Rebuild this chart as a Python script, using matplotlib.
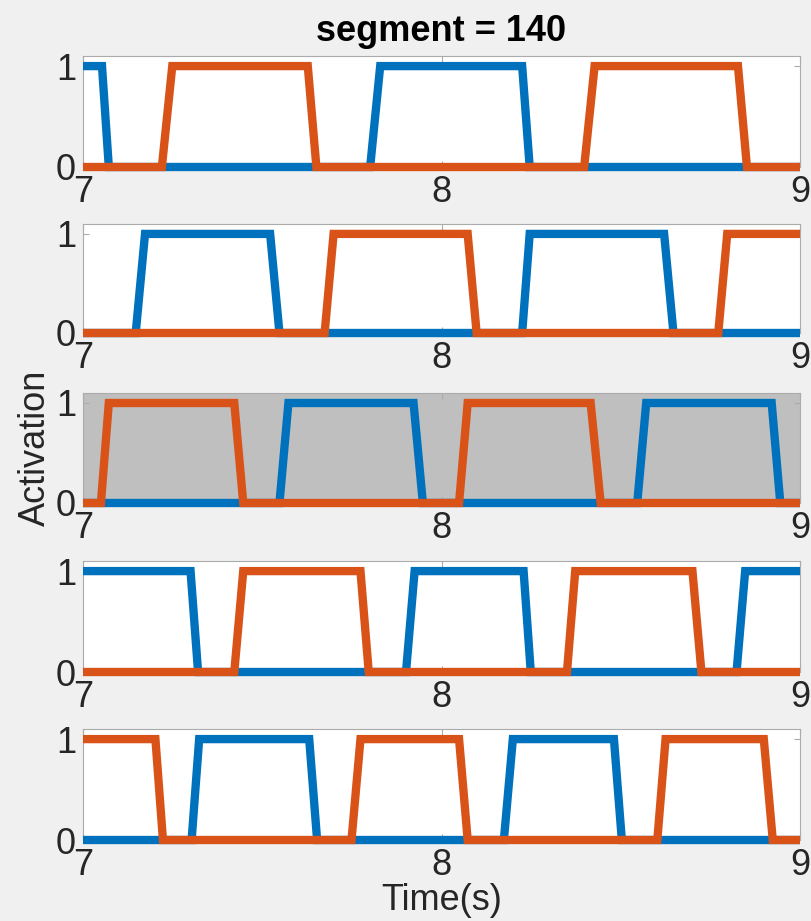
import matplotlib
matplotlib.use("Agg")
import matplotlib.pyplot as plt

plt.rcParams['font.family'] = ['Liberation Sans Narrow', 'Liberation Sans', 'DejaVu Sans']

# knot points (time in s, activation), one pair of series per panel
p1_blue_t = [7.0, 7.053, 7.072, 7.801, 7.829, 8.225, 8.246, 9.0]
p1_blue_y = [1, 1, 0, 0, 1, 1, 0, 0]
p1_orange_t = [7.0, 7.220, 7.249, 7.627, 7.651, 8.398, 8.427, 8.827, 8.852, 9.0]
p1_orange_y = [0, 0, 1, 1, 0, 0, 1, 1, 0, 0]

p2_blue_t = [7.0, 7.147, 7.173, 7.522, 7.548, 8.225, 8.246, 8.621, 8.647, 9.0]
p2_blue_y = [0, 0, 1, 1, 0, 0, 1, 1, 0, 0]
p2_orange_t = [7.0, 7.674, 7.699, 8.073, 8.098, 8.772, 8.797, 9.0]
p2_orange_y = [0, 0, 1, 1, 0, 0, 1, 1]

p3_blue_t = [7.0, 7.548, 7.573, 7.922, 7.948, 8.546, 8.571, 8.921, 8.945, 9.0]
p3_blue_y = [0, 0, 1, 1, 0, 0, 1, 1, 0, 0]
p3_orange_t = [7.0, 7.050, 7.072, 7.422, 7.447, 8.049, 8.073, 8.416, 8.444, 9.0]
p3_orange_y = [0, 0, 1, 1, 0, 0, 1, 1, 0, 0]

p4_blue_t = [7.0, 7.300, 7.321, 7.901, 7.925, 8.229, 8.249, 8.823, 8.847, 9.0]
p4_blue_y = [1, 1, 0, 0, 1, 1, 0, 0, 1, 1]
p4_orange_t = [7.0, 7.422, 7.447, 7.774, 7.797, 8.350, 8.373, 8.700, 8.725, 9.0]
p4_orange_y = [0, 0, 1, 1, 0, 0, 1, 1, 0, 0]

p5_blue_t = [7.0, 7.303, 7.324, 7.631, 7.653, 8.174, 8.199, 8.481, 8.503, 9.0]
p5_blue_y = [0, 0, 1, 1, 0, 0, 1, 1, 0, 0]
p5_orange_t = [7.0, 7.202, 7.223, 7.749, 7.774, 8.049, 8.073, 8.602, 8.625, 8.899, 8.924, 9.0]
p5_orange_y = [1, 1, 0, 0, 1, 1, 0, 0, 1, 1, 0, 0]

panels = [
    (p1_blue_t, p1_blue_y, p1_orange_t, p1_orange_y),
    (p2_blue_t, p2_blue_y, p2_orange_t, p2_orange_y),
    (p3_blue_t, p3_blue_y, p3_orange_t, p3_orange_y),
    (p4_blue_t, p4_blue_y, p4_orange_t, p4_orange_y),
    (p5_blue_t, p5_blue_y, p5_orange_t, p5_orange_y),
]
highlight = 2  # the gray-shaded panel
x_ticks = [7, 8, 9]
y_ticks = [0, 1]

BLUE = '#0072BD'
ORANGE = '#D95319'
SPINE = '#ababab'
FS = 26

W, H = 811, 921
fig = plt.figure(figsize=(W / 100, H / 100), dpi=100, facecolor='#f0f0f0')

left, right = 83, 800
tops = [56, 224, 393, 561, 729]
bottoms = [167, 333, 503, 672, 840]

axes = []
for i, (bt, by, ot, oy) in enumerate(panels):
    ax = fig.add_axes([left / W, 1 - bottoms[i] / H, (right - left) / W,
                       (bottoms[i] - tops[i]) / H])
    ax.set_facecolor('#bfbfbf' if i == highlight else 'white')
    ax.plot(bt, by, color=BLUE, lw=6.0, clip_on=False,
            solid_capstyle='butt', solid_joinstyle='miter')
    ax.plot(ot, oy, color=ORANGE, lw=6.0, clip_on=False,
            solid_capstyle='butt', solid_joinstyle='miter')
    ax.set_xlim(7, 9)
    ax.set_ylim(0, 1.1)
    ax.set_xticks(x_ticks)
    ax.set_yticks(y_ticks)
    ax.set_xticklabels([str(v) for v in x_ticks])
    ax.set_yticklabels([str(v) for v in y_ticks])
    ax.tick_params(direction='in', length=4, width=0.8, color=SPINE,
                   labelsize=FS, labelcolor='#262626', top=True, right=True)
    ax.tick_params(axis='x', pad=6)
    ax.tick_params(axis='y', pad=5)
    for sp in ax.spines.values():
        sp.set_color(SPINE)
        sp.set_linewidth(0.8)
        sp.set_zorder(0.5)
    axes.append(ax)

axes[0].set_title('segment = 140', fontsize=FS, fontweight='bold', pad=11)
axes[highlight].set_ylabel('Activation', fontsize=FS, color='#262626', labelpad=2)
axes[-1].set_xlabel('Time(s)', fontsize=FS, color='#262626', labelpad=0)

fig.savefig('out.png', dpi=100, facecolor=fig.get_facecolor())
